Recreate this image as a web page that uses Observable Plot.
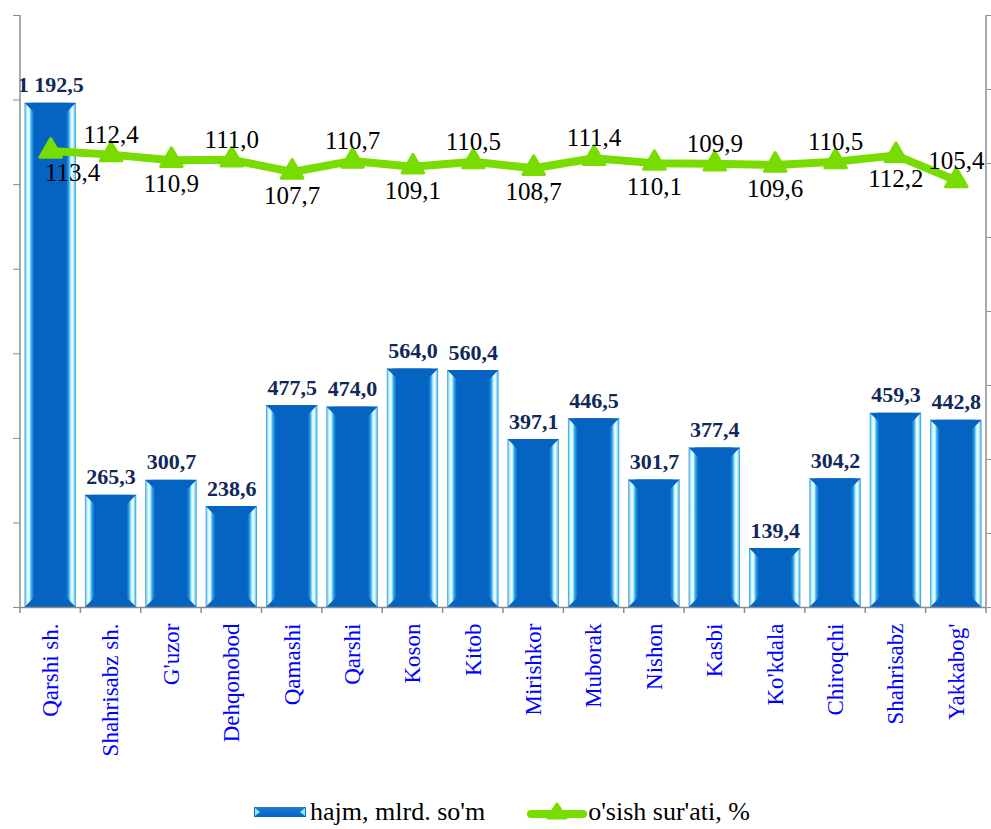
<!DOCTYPE html>
<html><head><meta charset="utf-8">
<script src="https://cdn.jsdelivr.net/npm/d3@7"></script>
<script src="https://cdn.jsdelivr.net/npm/@observablehq/plot@0.6"></script>
<style>
body{margin:0;background:#fff;font-family:"Liberation Serif","Times New Roman",serif;}
#legend{display:flex;justify-content:center;align-items:center;height:44px;padding-left:12px;font-size:26px;color:#000;font-family:"Liberation Serif","Times New Roman",serif;}
#legend .item{display:flex;align-items:center;}
#legend svg{display:block;}
</style></head><body><div id="chart"></div><div id="legend"></div>
<script>
const categories = ["Qarshi sh.","Shahrisabz sh.","G'uzor","Dehqonobod","Qamashi","Qarshi","Koson","Kitob","Mirishkor","Muborak","Nishon","Kasbi","Ko'kdala","Chiroqchi","Shahrisabz","Yakkabog'"];
const volume = [1192.5,265.3,300.7,238.6,477.5,474.0,564.0,560.4,397.1,446.5,301.7,377.4,139.4,304.2,459.3,442.8];
const growth = [113.4,112.4,110.9,111.0,107.7,110.7,109.1,110.5,108.7,111.4,110.1,109.9,109.6,110.5,112.2,105.4];
const leftTicks = [0,200,400,600,800,1000,1200,1400];
const rightTicks = [-10,10,30,50,70,90,110,130,150];
const seriesNames = ["hajm, mlrd. so'm","o'sish sur'ati, %"];

const BAR = "#0563C1", GREEN = "#78DC00";
const loc = d3.formatLocale({decimal:",", thousands:"\u00a0", grouping:[3]});
const fmt = loc.format(",.1f");
const leftDomain = [leftTicks[0], leftTicks[leftTicks.length-1]];
const rightDomain = [rightTicks[0], rightTicks[rightTicks.length-1]];
const toLeft = d3.scaleLinear(rightDomain, leftDomain);
const rows = categories.map((c,i)=>({c, v:volume[i], g:growth[i], gy:toLeft(growth[i]), i}));
const above = rows.filter(d=>d.i%2===1);
const below = rows.filter(d=>d.i%2===0);

const plot = Plot.plot({
  width:991, height:790, marginLeft:20, marginRight:5, marginTop:15, marginBottom:183,
  style:{fontFamily:"Liberation Serif, Times New Roman, serif", background:"#fff", overflow:"visible"},
  x:{domain:categories, paddingInner:0.15, paddingOuter:0.075, round:false},
  y:{domain:leftDomain},
  marks:[
    Plot.barY(rows,{x:"c", y:"v", fill:"url(#barGrad)"}),
    Plot.ruleY([0],{stroke:"#8c8c8c", strokeWidth:1.5}),
    Plot.axisY({anchor:"left", ticks:leftTicks, tickFormat:()=>"", tickSize:7, stroke:"#8c8c8c"}),
    Plot.axisY({anchor:"right", ticks:rightTicks.map(toLeft), tickFormat:()=>"", tickSize:6, stroke:"#8c8c8c"}),
    Plot.axisX({anchor:"bottom", tickSize:0, tickPadding:16, tickRotate:-90, fontSize:23, fill:"#0000FF", label:null}),
    Plot.text(rows,{x:"c", y:"v", text:d=>fmt(d.v), lineAnchor:"bottom", dy:-11, fontSize:22, fontWeight:"bold", fill:"#10285A"}),
    Plot.line(rows,{x:"c", y:"gy", stroke:GREEN, strokeWidth:8, strokeLinejoin:"round"}),
    Plot.dot(rows,{x:"c", y:"gy", symbol:"triangle", r:8, fill:GREEN, stroke:GREEN, strokeWidth:3, strokeLinejoin:"round"}),
    Plot.text(above,{x:"c", y:"gy", text:d=>fmt(d.g), dy:-20, fontSize:25, fill:"#000"}),
    Plot.text(below.slice(0,1),{x:"c", y:"gy", text:d=>fmt(d.g), dy:22, dx:22, fontSize:25, fill:"#000"}),
    Plot.text(below.slice(1),{x:"c", y:"gy", text:d=>fmt(d.g), dy:24, fontSize:25, fill:"#000"})
  ]
});

const svg = d3.select(plot);
const defs = svg.insert("defs", ":first-child");
const grad = defs.append("linearGradient").attr("id","barGrad").attr("x1","0").attr("x2","1").attr("y1","0").attr("y2","0");
[[0,"#3a8ad8"],[0.03,"#8fe6ff"],[0.07,"#ffffff"],[0.1,"#b8f2ff"],[0.13,"#34aef0"],[0.19,BAR],[0.81,BAR],[0.86,"#2a9fe8"],[0.9,"#b8f2ff"],[0.93,"#ffffff"],[0.97,"#7fe0ff"],[1,"#2a86d8"]]
  .forEach(([o,c])=>grad.append("stop").attr("offset",o).attr("stop-color",c));

// bevel trapezoids derived from each rendered bar
svg.selectAll('g[aria-label="bar"] rect').each(function(){
  const r = d3.select(this);
  const x = +r.attr("x"), y = +r.attr("y"), w = +r.attr("width"), h = +r.attr("height");
  const b = Math.min(w*0.19, h/2);
  const parent = d3.select(this.parentNode);
  parent.append("polygon").attr("fill",BAR)
    .attr("points",`${x},${y} ${x+w},${y} ${x+w-b},${y+b} ${x+b},${y+b}`);
  parent.append("polygon").attr("fill",BAR)
    .attr("points",`${x+b},${y+h-b} ${x+w-b},${y+h-b} ${x+w},${y+h} ${x},${y+h}`);
});

const xs = plot.scale("x"), ys = plot.scale("y");
const half = xs.step/2;
const y0 = ys.apply(leftDomain[0]), y1 = ys.apply(leftDomain[1]);
const xl = xs.apply(categories[0]) + xs.bandwidth/2 - half;
const xr = xs.apply(categories[categories.length-1]) + xs.bandwidth/2 + half;
const g = svg.append("g").attr("stroke","#8c8c8c").attr("stroke-width",1.5);
g.append("line").attr("x1",xl).attr("x2",xl).attr("y1",y1).attr("y2",y0);
g.append("line").attr("x1",xr).attr("x2",xr).attr("y1",y1).attr("y2",y0);
categories.forEach(c=>{
  const x = xs.apply(c) + xs.bandwidth/2 - half;
  g.append("line").attr("x1",x).attr("x2",x).attr("y1",y0).attr("y2",y0+6);
});
g.append("line").attr("x1",xr).attr("x2",xr).attr("y1",y0).attr("y2",y0+6);

document.getElementById("chart").append(plot);

const legend = document.getElementById("legend");
legend.innerHTML = `
<div class="item"><svg width="54" height="14"><defs><linearGradient id="lg" x1="0" x2="0" y1="0" y2="1"><stop offset="0" stop-color="#1e7ad4"/><stop offset="1" stop-color="${BAR}"/></linearGradient></defs>
<rect x="1" y="2" width="52" height="10" fill="url(#lg)"/>
<path d="M2,3 L7,7 L2,11 Z" fill="#8fe6ff"/><path d="M52,3 L47,7 L52,11 Z" fill="#8fe6ff"/></svg>
<span style="margin-left:3px">${seriesNames[0]}</span></div>
<div class="item" style="margin-left:42px"><svg width="60" height="24"><line x1="4" x2="56" y1="14" y2="14" stroke="${GREEN}" stroke-width="8" stroke-linecap="round"/>
<path d="M30,4 L39,18 L21,18 Z" fill="${GREEN}" stroke="${GREEN}" stroke-width="3" stroke-linejoin="round"/></svg>
<span style="margin-left:1px">${seriesNames[1]}</span></div>`;
</script></body></html>
